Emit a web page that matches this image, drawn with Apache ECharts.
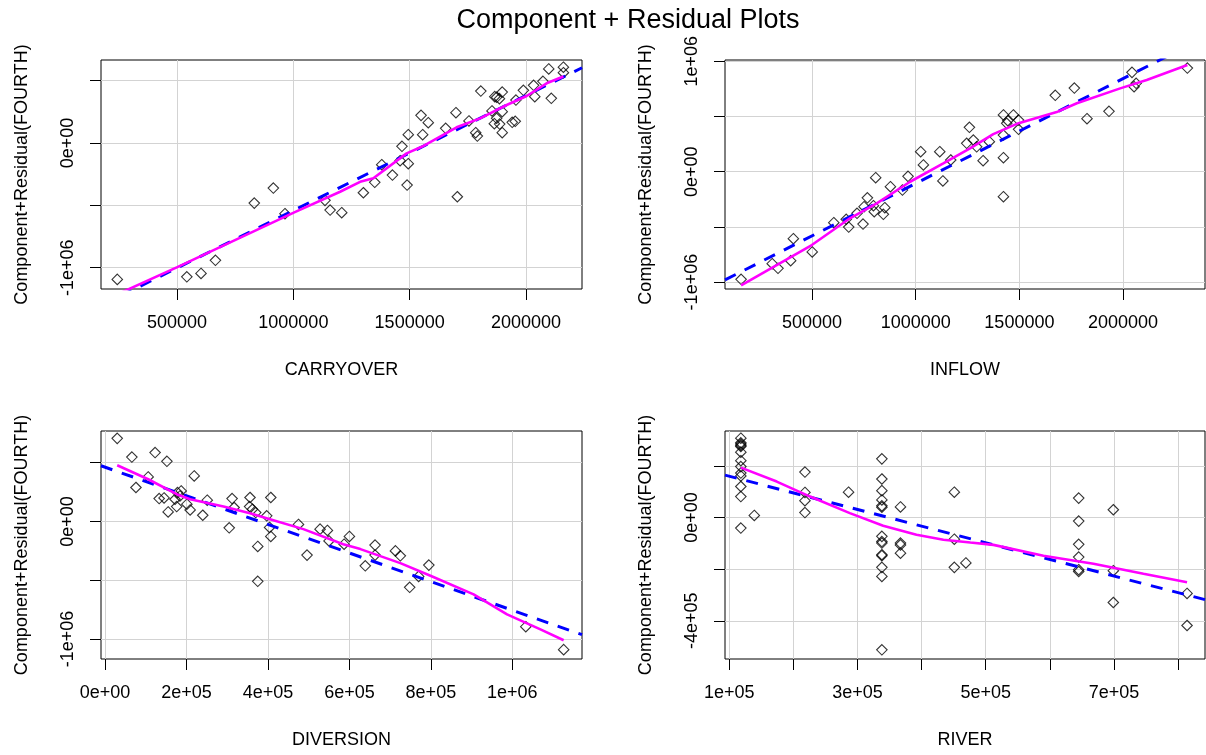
<!DOCTYPE html>
<html>
<head>
<meta charset="utf-8">
<script src="https://cdn.jsdelivr.net/npm/echarts@6/dist/echarts.min.js"></script>
<style>
html,body{margin:0;padding:0;background:#fff;}
#chart{width:1206px;height:755px;}
</style>
</head>
<body>
<div id="chart"></div>
<script>
// ---------------- DATA ----------------
const chartTitle = 'Component + Residual Plots';
const yAxisTitle = 'Component+Residual(FOURTH)';
const panelNames = ['CARRYOVER', 'INFLOW', 'DIVERSION', 'RIVER'];

// Panel 1: CARRYOVER
const carryX = [243000, 542000, 603000, 665000, 832000, 914000, 964000, 1136000, 1158000, 1208000, 1301000, 1350000, 1380000, 1426000, 1459000, 1467000, 1494000, 1489000, 1494000, 1549000, 1556000, 1580000, 1655000, 1699000, 1705000, 1755000, 1784000, 1791000, 1806000, 1854000, 1866000, 1874000, 1898000, 1886000, 1864000, 1874000, 1887000, 1898000, 1898000, 1941000, 1954000, 1957000, 1989000, 2033000, 2038000, 2073000, 2098000, 2109000, 2161000, 2161000];
const carryY = [-1094000, -1073000, -1046000, -941000, -482000, -361000, -567000, -460000, -538000, -559000, -399000, -315000, -174000, -257000, -142000, -26000, -166000, -337000, 67000, 222000, 67000, 163000, 118000, 243000, -431000, 177000, 83000, 56000, 417000, 257000, 372000, 367000, 409000, 356000, 155000, 198000, 152000, 83000, 251000, 166000, 174000, 345000, 423000, 463000, 372000, 495000, 594000, 359000, 608000, 564000];
const carryFitX = [173000, 2241000];
const carryFitY = [-1304000, 604000];
const carrySmoothX = [243000, 501000, 1004000, 1201000, 1287000, 1344000, 1487000, 1552000, 1702000, 1803000, 1917000, 2003000, 2089000, 2161000];
const carrySmoothY = [-1214000, -995000, -556000, -391000, -311000, -283000, -83000, -30000, 126000, 198000, 305000, 377000, 479000, 534000];
const carryXRange = [173000, 2241000];
const carryYRange = [-1171000, 666000];
const carryXTicks = [500000, 1000000, 1500000, 2000000];
const carryXLabels = [500000, 1000000, 1500000, 2000000];
const carryYTicks = [-1000000, -500000, 0, 500000];
const carryYLabels = [-1000000, 0];

// Panel 2: INFLOW
const inflowX = [158000, 308000, 336000, 397000, 410000, 501000, 605000, 665000, 677000, 717000, 746000, 751000, 767000, 796000, 800000, 807000, 844000, 851000, 878000, 936000, 963000, 1024000, 1037000, 1116000, 1131000, 1169000, 1246000, 1259000, 1278000, 1294000, 1325000, 1355000, 1423000, 1439000, 1444000, 1423000, 1471000, 1496000, 1496000, 1423000, 1423000, 1673000, 1765000, 1826000, 1932000, 2043000, 2053000, 2063000, 2310000];
const inflowY = [-975000, -833000, -875000, -806000, -607000, -727000, -462000, -431000, -501000, -377000, -474000, -317000, -236000, -308000, -362000, -54000, -386000, -326000, -136000, -166000, -42000, 181000, 61000, 181000, -84000, 106000, 257000, 402000, 287000, 226000, 100000, 272000, 514000, 438000, 462000, 332000, 514000, 468000, 384000, 127000, -226000, 692000, 758000, 480000, 547000, 900000, 770000, 801000, 939000];
const inflowFitX = [80400, 2395000];
const inflowFitY = [-980000, 1219000];
const inflowSmoothX = [158000, 499000, 683000, 812000, 973000, 1133000, 1262000, 1374000, 1496000, 1680000, 1777000, 1986000, 2114000, 2310000];
const inflowSmoothY = [-1030000, -664000, -422000, -286000, -91000, 76000, 212000, 340000, 440000, 540000, 620000, 755000, 831000, 966000];
const inflowXRange = [80400, 2395000];
const inflowYRange = [-1062500, 1012000];
const inflowXTicks = [500000, 1000000, 1500000, 2000000];
const inflowXLabels = [500000, 1000000, 1500000, 2000000];
const inflowYTicks = [-1000000, -500000, 0, 500000, 1000000];
const inflowYLabels = [-1000000, 0, 1000000];

// Panel 3: DIVERSION
const divX = [30000, 66000, 123000, 152000, 106000, 76000, 219000, 133000, 145000, 155000, 172000, 178000, 184000, 187000, 176000, 201000, 209000, 240000, 251000, 305000, 312000, 317000, 356000, 355000, 362000, 370000, 375000, 375000, 407000, 397000, 404000, 407000, 475000, 496000, 528000, 546000, 550000, 600000, 587000, 663000, 663000, 639000, 713000, 725000, 770000, 748000, 795000, 1033000, 1126000];
const divY = [707000, 548000, 586000, 512000, 379000, 289000, 387000, 195000, 200000, 81000, 189000, 246000, 217000, 260000, 127000, 147000, 98000, 53000, 181000, -54000, 195000, 119000, 204000, 127000, 104000, 76000, -212000, -509000, 204000, 48000, -51000, -127000, -25000, -286000, -65000, -76000, -165000, -127000, -193000, -201000, -286000, -377000, -250000, -292000, -467000, -560000, -371000, -895000, -1090000];
const divFitX = [-9800, 1171000];
const divFitY = [474000, -963000];
const divSmoothX = [30000, 106000, 176000, 209000, 291000, 356000, 405000, 487000, 585000, 627000, 725000, 799000, 905000, 987000, 1069000, 1126000];
const divSmoothY = [478000, 359000, 232000, 189000, 127000, 70000, 20000, -65000, -193000, -235000, -354000, -462000, -620000, -790000, -918000, -1010000];
const divXRange = [-9800, 1171000];
const divYRange = [-1169600, 769600];
const divXTicks = [0, 200000, 400000, 600000, 800000, 1000000];
const divXLabels = [0, 200000, 400000, 600000, 800000, 1000000];
const divYTicks = [-1000000, -500000, 0, 500000];
const divYLabels = [-1000000, 0];

// Panel 4: RIVER
const riverX = [118000, 118000, 118000, 118000, 118000, 118000, 118000, 118000, 118000, 118000, 118000, 118000, 118000, 139000, 218000, 218000, 218000, 218000, 286000, 338000, 338000, 338000, 338000, 338000, 338000, 338000, 338000, 338000, 338000, 338000, 338000, 338000, 338000, 367000, 367000, 367000, 367000, 451000, 451000, 451000, 469000, 645000, 645000, 645000, 645000, 645000, 645000, 699000, 699000, 699000, 814000, 814000];
const riverY = [307000, 289000, 284000, 279000, 275000, 253000, 220000, 197000, 172000, 161000, 120000, 81000, -41000, 8000, 176000, 97000, 65000, 19000, 98000, 227000, 149000, 104000, 68000, 45000, 40000, -73000, -93000, -99000, -144000, -148000, -193000, -228000, -512000, 41000, -99000, -106000, -138000, 98000, -84000, -193000, -176000, 75000, -14000, -104000, -153000, -202000, -209000, 30000, -206000, -329000, -294000, -418000];
const riverFitX = [93300, 842000];
const riverFitY = [164000, -318000];
const riverSmoothX = [118000, 174000, 226000, 288000, 340000, 392000, 434000, 476000, 512000, 590000, 668000, 746000, 814000];
const riverSmoothY = [193000, 139000, 81000, 17000, -32000, -67000, -86000, -97000, -106000, -148000, -179000, -218000, -251000];
const riverXRange = [93300, 842000];
const riverYRange = [-547700, 334800];
const riverXTicks = [100000, 200000, 300000, 400000, 500000, 600000, 700000, 800000];
const riverXLabels = [100000, 300000, 500000, 700000];
const riverYTicks = [-400000, -200000, 0, 200000];
const riverYLabels = [-400000, 0];

// ---------------- BUILD ----------------
const FONT = '"Liberation Sans", Arial, Helvetica, sans-serif';

function sci(v) {
  if (v === 0) return '0e+00';
  const e = Math.floor(Math.log10(Math.abs(v)) + 1e-9);
  const m = Math.round(v / Math.pow(10, e));
  return m + 'e' + (e < 0 ? '-' : '+') + String(Math.abs(e)).padStart(2, '0');
}
function plain(v) { return String(Math.round(v)); }
function zip(a, b) { return a.map((v, i) => [v, b[i]]); }

const panels = [
  { name: panelNames[0], x: carryX, y: carryY, fx: carryFitX, fy: carryFitY, sx: carrySmoothX, sy: carrySmoothY,
    xr: carryXRange, yr: carryYRange, xt: carryXTicks, xl: carryXLabels, yt: carryYTicks, yl: carryYLabels, xfmt: plain,
    box: { left: 101, top: 60, width: 481, height: 229 } },
  { name: panelNames[1], x: inflowX, y: inflowY, fx: inflowFitX, fy: inflowFitY, sx: inflowSmoothX, sy: inflowSmoothY,
    xr: inflowXRange, yr: inflowYRange, xt: inflowXTicks, xl: inflowXLabels, yt: inflowYTicks, yl: inflowYLabels, xfmt: plain,
    box: { left: 725, top: 60, width: 480, height: 229 } },
  { name: panelNames[2], x: divX, y: divY, fx: divFitX, fy: divFitY, sx: divSmoothX, sy: divSmoothY,
    xr: divXRange, yr: divYRange, xt: divXTicks, xl: divXLabels, yt: divYTicks, yl: divYLabels, xfmt: sci,
    box: { left: 101, top: 431, width: 481, height: 228 } },
  { name: panelNames[3], x: riverX, y: riverY, fx: riverFitX, fy: riverFitY, sx: riverSmoothX, sy: riverSmoothY,
    xr: riverXRange, yr: riverYRange, xt: riverXTicks, xl: riverXLabels, yt: riverYTicks, yl: riverYLabels, xfmt: sci,
    box: { left: 725, top: 431, width: 480, height: 228 } }
];

const grids = [], xAxes = [], yAxes = [], series = [];
panels.forEach((p, i) => {
  grids.push(Object.assign({
    show: true, borderColor: '#000', borderWidth: 1, backgroundColor: 'transparent',
    containLabel: false, outerBoundsMode: 'none'
  }, p.box));
  const common = {
    gridIndex: i, type: 'value',
    axisLine: { show: false, onZero: false },
    axisTick: { show: true, inside: false, length: 11, lineStyle: { color: '#000', width: 1 } },
    splitLine: { show: true, lineStyle: { color: '#d3d3d3', width: 1 } },
    nameLocation: 'middle', nameGap: 72,
    nameTextStyle: { fontFamily: FONT, fontSize: 18, color: '#000' },
    nameMoveOverlap: false
  };
  xAxes.push(Object.assign({}, common, {
    min: p.xr[0], max: p.xr[1], name: p.name,
    axisTick: Object.assign({}, common.axisTick, { customValues: p.xt }),
    axisLabel: { customValues: p.xl, formatter: p.xfmt, fontFamily: FONT, fontSize: 18, color: '#000', margin: 25,
                 hideOverlap: false, showMinLabel: true, showMaxLabel: true }
  }));
  yAxes.push(Object.assign({}, common, {
    min: p.yr[0], max: p.yr[1], name: yAxisTitle, nameRotate: 90, nameGap: 70,
    axisTick: Object.assign({}, common.axisTick, { customValues: p.yt }),
    axisLabel: { customValues: p.yl, formatter: sci, rotate: 90, fontFamily: FONT, fontSize: 18, color: '#000', margin: 24,
                 hideOverlap: false, showMinLabel: true, showMaxLabel: true }
  }));
  series.push({
    type: 'scatter', xAxisIndex: i, yAxisIndex: i, data: zip(p.x, p.y),
    symbol: 'diamond', symbolSize: 10.5, silent: true, z: 2,
    itemStyle: { color: 'rgba(0,0,0,0)', borderColor: '#000', borderWidth: 1.1 }
  });
  series.push({
    type: 'line', xAxisIndex: i, yAxisIndex: i, data: zip(p.fx, p.fy),
    symbol: 'none', showSymbol: false, silent: true, clip: true, z: 3,
    lineStyle: { color: '#0000ff', width: 3, type: [12, 10] }
  });
  series.push({
    type: 'line', xAxisIndex: i, yAxisIndex: i, data: zip(p.sx, p.sy),
    symbol: 'none', showSymbol: false, silent: true, clip: true, z: 4,
    lineStyle: { color: '#ff00ff', width: 2.6 }
  });
});

const chart = echarts.init(document.getElementById('chart'), null, { renderer: 'canvas' });
chart.setOption({
  animation: false,
  backgroundColor: '#fff',
  graphic: [{
    type: 'text', x: 628, y: 21,
    style: { text: chartTitle, fill: '#000', font: '27px ' + FONT, textAlign: 'center', textVerticalAlign: 'middle' }
  }],
  grid: grids,
  xAxis: xAxes,
  yAxis: yAxes,
  series: series
});
</script>
</body>
</html>
